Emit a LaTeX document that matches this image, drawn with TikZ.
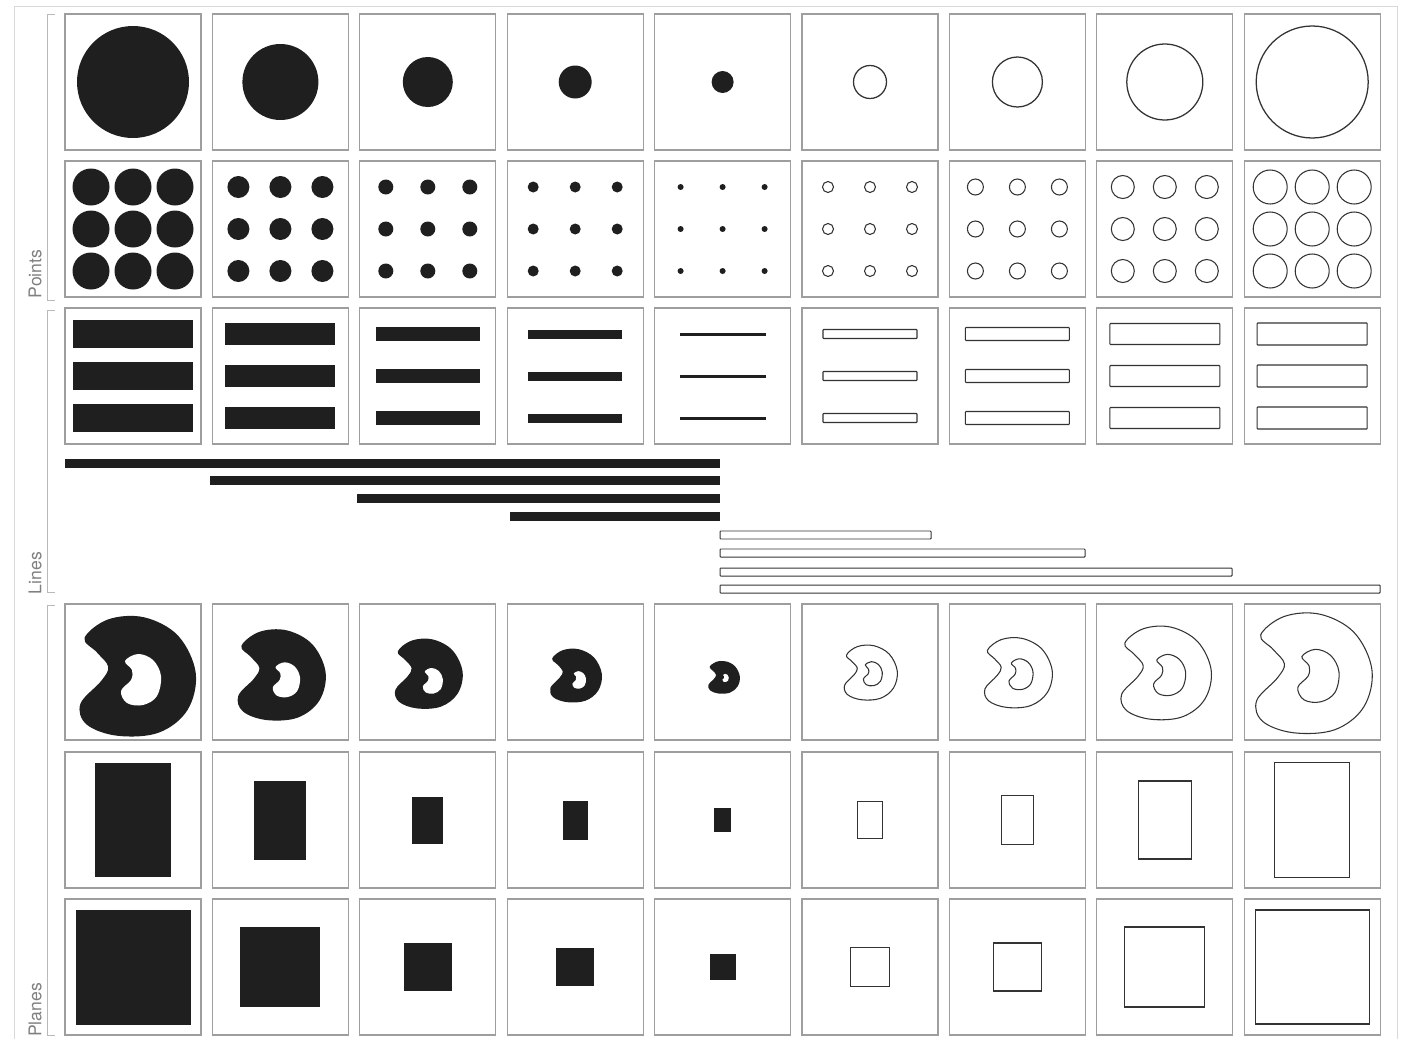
\documentclass[tikz,border=0pt]{standalone}
\usepackage{fontspec}
\setsansfont{TeX Gyre Heros}
\definecolor{framegray}{gray}{0.62}
\definecolor{labelgray}{gray}{0.5}
% bean outline and its hole, in pixel units round the cell centre
\newcommand{\beanout}{plot[smooth cycle, tension=0.6] coordinates {(-50,-36) (-27,-54) (8,-56) (41,-38) (58,-2) (50,34) (22,56) (-18,59) (-48,48) (-54,28) (-34,6) (-27,-8) (-38,-22)}}
\newcommand{\beanin}{plot[smooth cycle, tension=0.6] coordinates {(-10,-15) (3,-22) (18,-16) (26,0) (22,20) (8,29) (-8,27) (-14,15) (-4,4) (-3,-6)}}

\begin{document}
\begin{tikzpicture}[
  x=0.05cm, y=-0.05cm,
  cell/.style={draw=framegray, line width=1.6pt, minimum size=6.8cm, inner sep=0pt},
  ink/.style={fill=black!88},
  ring/.style={draw=black!80, line width=1.8pt},
  bracket/.style={draw=gray!55, line width=1.2pt},
  lbl/.style={text=labelgray, rotate=90, font=\sffamily\fontsize{25}{25}\selectfont}
]
  \useasboundingbox (0,0) rectangle (1404,1039);
  \draw[gray!30, line width=1pt] (14,1039) -- (14,6) -- (1397,6) -- (1397,1039);

  % grid of cells
  \foreach \r/\y in {1/82,2/229,3/376,4/672,5/820,6/967}
    \foreach \c in {1,...,9}
      \node[cell] (c\r\c) at ({133+147.4*(\c-1)},\y) {};

  % points
  \foreach \c/\rad in {1/56,2/38,3/25,4/16.5,5/11}
    \fill[ink] (c1\c) circle (\rad);
  \foreach \c/\rad in {6/16.5,7/25,8/38,9/56}
    \draw[ring] (c1\c) circle (\rad);
  \foreach \c/\rad in {1/18.5,2/11,3/7.5,4/5.5,5/3}
    \foreach \dx in {-42,0,42}
      \foreach \dy in {-42,0,42}
        \fill[ink, shift={(c2\c)}] (\dx,\dy) circle (\rad);
  \foreach \c/\rad in {6/5.5,7/8,8/11.5,9/17}
    \foreach \dx in {-42,0,42}
      \foreach \dy in {-42,0,42}
        \draw[ring, line width=1.5pt, shift={(c2\c)}] (\dx,\dy) circle (\rad);

  % lines
  \foreach \c/\hw/\h in {1/60/28,2/55/22,3/52/14,4/47/9,5/43/3}
    \foreach \dy in {-42,0,42}
      \fill[ink, shift={(c3\c)}] (-\hw,\dy-\h/2) rectangle (\hw,\dy+\h/2);
  \foreach \c/\hw/\h in {6/47/9,7/52/13,8/55/21,9/55/22}
    \foreach \dy in {-42,0,42}
      \draw[ring, line width=1.5pt, rounded corners=1pt, shift={(c3\c)}] (-\hw,\dy-\h/2) rectangle (\hw,\dy+\h/2);
  \foreach \x/\y in {65/463,210/480,357/498,510/516}
    \fill[ink] (\x,\y-4.5) rectangle (720,\y+4.5);
  \foreach \x/\y in {931/535,1085/553,1232/572,1380/589}
    \draw[ring, line width=1.4pt, rounded corners=1pt] (720,\y-4) rectangle (\x,\y+4);

  % planes
  \foreach \c/\s/\ox/\oy/\h/\hx/\hy in {1/1.03/3/3/1/8/8, 2/0.78/0/2/0.68/6/8, 3/0.6/0/1/0.5/5/9, 4/0.46/0/3/0.34/4/8, 5/0.28/1/5/0.16/3/6} {
    \fill[ink, shift={(c4\c)}, shift={(\ox,\oy)}, scale=\s] \beanout;
    \fill[white, shift={(c4\c)}, shift={(\hx,\hy)}, scale=\h, shift={(-6,-4)}] \beanin;
  }
  \foreach \c/\s in {6/0.47,7/0.6,8/0.8,9/1.03} {
    \draw[ring, line width=1.5pt, shift={(c4\c)}, scale=\s] \beanout;
    \draw[ring, line width=1.5pt, shift={(c4\c)}, scale=\s] \beanin;
  }
  \foreach \c/\w/\h in {1/76/114,2/52/79,3/31/47,4/25/39,5/17/24}
    \fill[ink, shift={(c5\c)}] (-\w/2,-\h/2) rectangle (\w/2,\h/2);
  \foreach \c/\w/\h in {6/25/37,7/32/49,8/53/78,9/75/115}
    \draw[ring, line width=1.5pt, shift={(c5\c)}] (-\w/2,-\h/2) rectangle (\w/2,\h/2);
  \foreach \c/\a in {1/115,2/80,3/48,4/38,5/26}
    \fill[ink, shift={(c6\c)}] (-\a/2,-\a/2) rectangle (\a/2,\a/2);
  \foreach \c/\a in {6/39,7/48,8/80,9/114}
    \draw[ring, line width=1.5pt, shift={(c6\c)}] (-\a/2,-\a/2) rectangle (\a/2,\a/2);

  % brackets and labels
  \draw[bracket] (55,14) -- (47,14) -- (47,300) -- (55,300);
  \draw[bracket] (55,310) -- (47,310) -- (47,592) -- (55,592);
  \draw[bracket] (55,605) -- (47,605) -- (47,1035) -- (55,1035);
  \node[lbl] (points) at (35,274) {Points};
  \node[lbl] (lines) at (35,573) {Lines};
  \node[lbl] (planes) at (35,1010) {Planes};
\end{tikzpicture}
\end{document}
